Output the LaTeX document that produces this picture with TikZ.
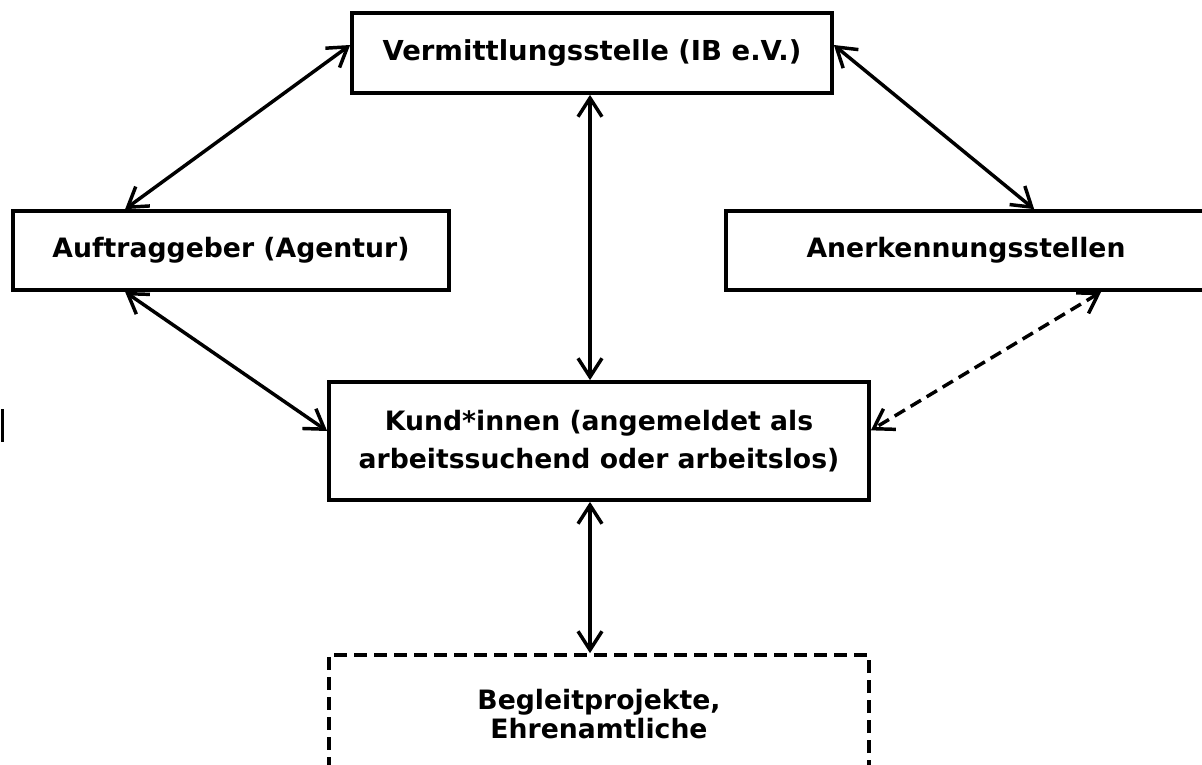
\documentclass[tikz,border=0pt]{standalone}
\usepackage{fontspec}
\setmainfont{DejaVu Sans}
\usetikzlibrary{arrows.meta}
\begin{document}
\begin{tikzpicture}[x=0.75pt,y=-0.75pt,
  box/.style={draw, line width=2.8pt, rectangle, align=center, inner sep=0pt,
    font=\bfseries\fontsize{20}{22}\selectfont},
  dbox/.style={box, dash pattern=on 10pt off 5pt},
  link/.style={line width=2.6pt,
    {Straight Barb[length=14pt,width=18pt]}-{Straight Barb[length=14pt,width=18pt]}},
  dlink/.style={link, dash pattern=on 9pt off 5pt}]
\useasboundingbox (0,0) rectangle (1202,764);
\node[box, minimum width=360pt, minimum height=60pt, font=\bfseries\fontsize{20.6}{22}\selectfont] (verm) at (592,53) {Vermittlungsstelle (IB e.V.)};
\node[box, minimum width=327pt, minimum height=59.25pt] (auft) at (231,250.5) {Auftraggeber (Agentur)};
\node[box, minimum width=360pt, minimum height=59.25pt] (aner) at (966,250.5) {Anerkennungsstellen};
\node[box, minimum width=405pt, minimum height=88.5pt, font=\bfseries\fontsize{20}{29}\selectfont] (kund) at (599,441)
  {Kund*innen (angemeldet als\\arbeitssuchend oder arbeitslos)};
\node[dbox, minimum width=405pt, minimum height=88.5pt] (begl) at (599,714) {Begleitprojekte,\\Ehrenamtliche};
\coordinate (vx) at ([xshift=-1.5pt]verm.south);
\draw[link] ([yshift=6pt]verm.west) -- ([xshift=85.5pt]auft.north west);
\draw[link] ([yshift=6pt]verm.east) -- ([xshift=232.5pt]aner.north west);
\draw[link] (vx) -- (vx |- kund.north);
\draw[link] ([xshift=85.5pt]auft.south west) -- ([yshift=7.5pt]kund.west);
\draw[dlink] ([xshift=282.75pt]aner.south west) -- ([yshift=8pt]kund.east);
\draw[link] (vx |- kund.south) -- (vx |- begl.north);
\draw[line width=2.2pt] (2.5,409) -- (2.5,442);
\end{tikzpicture}
\end{document}
